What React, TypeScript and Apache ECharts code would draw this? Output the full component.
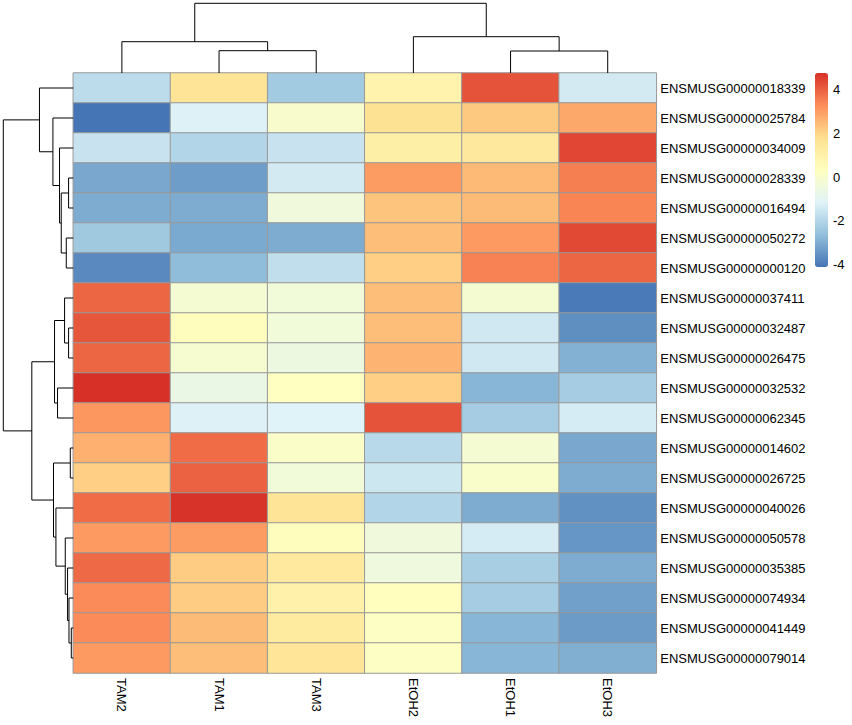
import React, { useEffect, useRef } from "react";
import * as echarts from "echarts";

const colLabels = ["TAM2", "TAM1", "TAM3", "EtOH2", "EtOH1", "EtOH3"];
const rowLabels = [
  "ENSMUSG00000018339", "ENSMUSG00000025784", "ENSMUSG00000034009", "ENSMUSG00000028339",
  "ENSMUSG00000016494", "ENSMUSG00000050272", "ENSMUSG00000000120", "ENSMUSG00000037411",
  "ENSMUSG00000032487", "ENSMUSG00000026475", "ENSMUSG00000032532", "ENSMUSG00000062345",
  "ENSMUSG00000014602", "ENSMUSG00000026725", "ENSMUSG00000040026", "ENSMUSG00000050578",
  "ENSMUSG00000035385", "ENSMUSG00000074934", "ENSMUSG00000041449", "ENSMUSG00000079014",
];

const tam2 = [-1.8, -4.1, -1.6, -3.1, -3.0, -2.35, -3.7, 3.9, 4.15, 3.9, 4.75, 3.1, 2.65, 2.1, 3.8, 3.05, 3.85, 3.3, 3.3, 3.05];
const tam1 = [1.6, -1.2, -2.0, -3.3, -3.0, -3.05, -2.65, -0.2, 0.4, -0.1, -0.65, -1.2, 3.8, 3.95, 4.7, 3.0, 2.15, 2.15, 2.45, 2.4];
const tam3 = [-2.3, 0.0, -1.6, -1.4, -0.4, -3.0, -1.75, -0.35, -0.35, -0.55, 0.3, -1.15, 0.1, -0.35, 1.6, 0.4, 1.35, 1.0, 1.3, 1.55];
const etoh2 = [0.9, 1.7, 1.1, 3.0, 2.3, 2.4, 2.1, 2.4, 2.4, 2.6, 2.1, 4.2, -1.9, -1.5, -2.0, -0.4, -0.45, 0.35, 0.2, 0.2];
const etoh1 = [4.2, 2.2, 1.4, 2.5, 2.45, 3.05, 3.45, -0.15, -1.45, -1.45, -2.8, -2.25, -0.2, 0.05, -3.0, -1.35, -2.2, -2.25, -2.8, -2.8];
const etoh3 = [-1.4, 2.8, 4.4, 3.5, 3.4, 4.35, 3.9, -4.0, -3.6, -2.9, -2.25, -1.35, -3.1, -3.0, -3.55, -3.45, -3.0, -3.25, -3.35, -2.95];
const colValues = [tam2, tam1, tam3, etoh2, etoh1, etoh3];

// hclust-style merges: negative = leaf (display index k-1), positive = earlier merge (1-based)
const colMerge = [
  [-2, -3, 22.3],
  [-5, -6, 22.0],
  [-1, 1, 31.3],
  [-4, 2, 36.3],
  [3, 4, 69.7],
];
const rowMerge = [
  [-4, -5, 4.7],
  [-6, -7, 7.0],
  [1, 2, 12.0],
  [-3, 3, 13.7],
  [-2, 4, 20.3],
  [-1, 5, 33.7],
  [-9, -10, 4.7],
  [-8, 7, 8.7],
  [-11, -12, 15.7],
  [8, 9, 18.7],
  [-13, -14, 3.0],
  [-19, -20, 2.0],
  [-18, 12, 4.3],
  [-17, 13, 5.7],
  [-16, 14, 8.0],
  [-15, 15, 17.3],
  [11, 16, 19.7],
  [10, 17, 41.3],
  [6, 18, 69.7],
];

const palette = ["#4575B4", "#91BFDB", "#E0F3F8", "#FFFFBF", "#FEE090", "#FC8D59", "#D73027"];
const legendTicks = [-4, -2, 0, 2, 4];
const valueMin = -4.1;
const valueMax = 4.75;

const FONT = "'Liberation Sans', Arial, Helvetica, sans-serif";

function dendroSegments(merge: number[][]) {
  const pos: number[] = [];
  const hgt: number[] = [];
  const get = (k: number) => (k < 0 ? [-k - 1, 0] : [pos[k - 1], hgt[k - 1]]);
  const segs: number[][] = [];
  merge.forEach(([a, b, h]) => {
    const [pa, ha] = get(a);
    const [pb, hb] = get(b);
    segs.push([pa, ha, pa, h], [pa, h, pb, h], [pb, h, pb, hb]);
    pos.push((pa + pb) / 2);
    hgt.push(h);
  });
  return { segs, rootHeight: hgt[hgt.length - 1] };
}

const lineRender = (params: any, api: any) => {
  const p1 = api.coord([api.value(0), api.value(1)]);
  const p2 = api.coord([api.value(2), api.value(3)]);
  return {
    type: "line",
    shape: { x1: p1[0], y1: p1[1], x2: p2[0], y2: p2[1] },
    style: { stroke: "#000", lineWidth: 1 },
  };
};

export default function App() {
  const ref = useRef<HTMLDivElement>(null);
  useEffect(() => {
    document.body.style.margin = "0";
    if (!ref.current) return;
    const chart = echarts.init(ref.current, null, { renderer: "svg" });

    const heatData: number[][] = [];
    colValues.forEach((vals, c) => vals.forEach((v, r) => heatData.push([c, r, v])));

    const colD = dendroSegments(colMerge);
    const rowD = dendroSegments(rowMerge);
    const rowSegs = rowD.segs.map(([p1, h1, p2, h2]) => [h1, p1, h2, p2]);

    const gridL = 73.3, gridT = 73, gridW = 583, gridH = 600;

    chart.setOption({
      animation: false,
      textStyle: { fontFamily: FONT },
      grid: [
        { left: gridL, top: gridT, width: gridW, height: gridH },
        { left: gridL, top: 3.3, width: gridW, height: gridT - 3.3 },
        { left: 3.3, top: gridT, width: gridL - 3.3, height: gridH },
        { left: 815, top: gridT, width: 13, height: 194 },
      ],
      xAxis: [
        {
          gridIndex: 0, type: "category", data: colLabels, position: "bottom",
          axisLine: { show: false }, axisTick: { show: false }, splitLine: { show: false },
          axisLabel: { rotate: -90, margin: 5, fontSize: 13, color: "#000", fontFamily: FONT },
        },
        { gridIndex: 1, type: "value", min: -0.5, max: 5.5, show: false },
        { gridIndex: 2, type: "value", min: 0, max: rowD.rootHeight, inverse: true, show: false },
        { gridIndex: 3, type: "value", min: 0, max: 1, show: false },
      ],
      yAxis: [
        {
          gridIndex: 0, type: "category", data: rowLabels, inverse: true, position: "right",
          axisLine: { show: false }, axisTick: { show: false }, splitLine: { show: false },
          axisLabel: { margin: 4, fontSize: 13, color: "#000", fontFamily: FONT },
        },
        { gridIndex: 1, type: "value", min: 0, max: colD.rootHeight, show: false },
        { gridIndex: 2, type: "value", min: -0.5, max: rowLabels.length - 0.5, inverse: true, show: false },
        {
          gridIndex: 3, type: "value", min: valueMin, max: valueMax, position: "right",
          axisLine: { show: false }, axisTick: { show: false }, splitLine: { show: false },
          axisLabel: {
            customValues: legendTicks, margin: 5, fontSize: 13, color: "#000", fontFamily: FONT,
          },
        },
      ],
      visualMap: {
        type: "continuous",
        min: valueMin,
        max: valueMax,
        seriesIndex: 0,
        calculable: false,
        hoverLink: false,
        left: 815,
        top: gridT,
        itemWidth: 13,
        itemHeight: 194,
        padding: 0,
        inRange: { color: palette },
      },
      series: [
        {
          type: "heatmap",
          xAxisIndex: 0,
          yAxisIndex: 0,
          data: heatData,
          itemStyle: { borderColor: "#999999", borderWidth: 1 },
          emphasis: { disabled: true },
        },
        {
          type: "custom",
          xAxisIndex: 1,
          yAxisIndex: 1,
          data: colD.segs,
          encode: { x: [0, 2], y: [1, 3] },
          renderItem: lineRender,
          clip: false,
          silent: true,
        },
        {
          type: "custom",
          xAxisIndex: 2,
          yAxisIndex: 2,
          data: rowSegs,
          encode: { x: [0, 2], y: [1, 3] },
          renderItem: lineRender,
          clip: false,
          silent: true,
        },
        {
          type: "custom",
          xAxisIndex: 3,
          yAxisIndex: 3,
          data: [],
          renderItem: lineRender,
          silent: true,
        },
      ],
    });
    return () => chart.dispose();
  }, []);
  return <div ref={ref} style={{ width: 852, height: 725 }} />;
}
